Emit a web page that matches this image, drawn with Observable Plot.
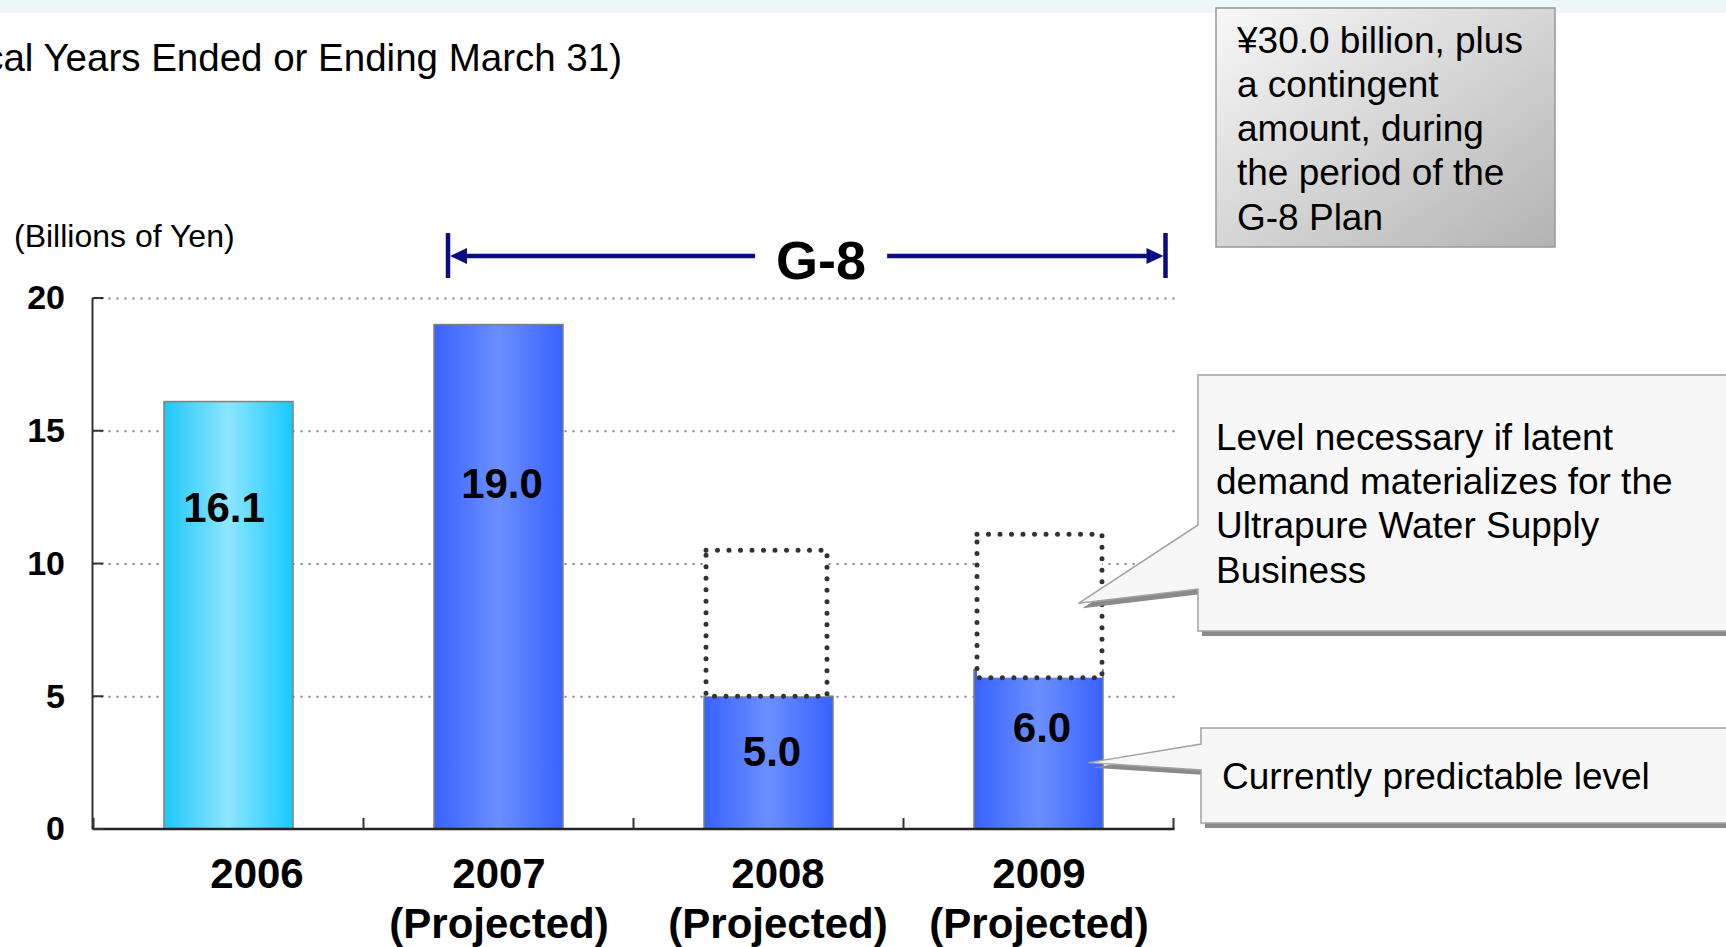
<!DOCTYPE html>
<html><head><meta charset="utf-8">
<script src="https://cdn.jsdelivr.net/npm/d3@7"></script>
<script src="https://cdn.jsdelivr.net/npm/@observablehq/plot@0.6"></script>
<style>
html,body{margin:0;padding:0;background:#fff;}
body{width:1726px;height:947px;overflow:hidden;}
#chart svg{display:block;}
</style></head><body><div id="chart"></div>
<script>
// ---------- data ----------
const years = ["2006", "2007", "2008", "2009"];
const projected = [false, true, true, true];
const investment = [16.1, 19.0, 5.0, 6.0];
const latentFrom = [null, null, 5.0, 5.7];
const latentTo = [null, null, 10.5, 11.1];
const yTicks = [0, 5, 10, 15, 20];
const titleText = "(Fiscal Years Ended or Ending March 31)";
const unitText = "(Billions of Yen)";
const planLabel = "G-8";
const planNote = ["¥30.0 billion, plus", "a contingent", "amount, during", "the period of the", "G-8 Plan"];
const latentNote = ["Level necessary if latent", "demand materializes for the", "Ultrapure Water Supply", "Business"];
const currentNote = ["Currently predictable level"];

// ---------- layout ----------
const labelLevel = [12.1, 13.0, 2.9, 3.8];
const valueShift = [-5, 3, 3, 3];
const labelShift = [28, 0, 9, 0];
const pointerLevel = [8.5, 2.5];
const W = 1726, H = 947;
const FONT = '"Liberation Sans", Arial, Helvetica, sans-serif';

const rows = years.map((year, i) => ({
  year, value: investment[i], projected: projected[i],
  low: latentFrom[i], high: latentTo[i],
  labelAt: labelLevel[i], vshift: valueShift[i], shift: labelShift[i],
  tick: projected[i] ? year + "\n(Projected)" : year
}));

function addText(g, x, y, s, o = {}) {
  return g.append("text").attr("x", x).attr("y", y)
    .attr("dominant-baseline", "central")
    .attr("text-anchor", o.anchor || "start")
    .attr("font-size", o.size || 37)
    .attr("font-weight", o.weight || "normal")
    .attr("font-family", FONT)
    .attr("fill", o.fill || "#000")
    .text(s);
}

function backgroundMark(index, scales, values, dims) {
  const g = d3.create("svg:g");
  const defs = g.append("defs");
  const lg = (id, stops, x2 = 1, y2 = 0) => {
    const gr = defs.append("linearGradient").attr("id", id)
      .attr("x1", 0).attr("y1", 0).attr("x2", x2).attr("y2", y2);
    stops.forEach(([o, c]) => gr.append("stop").attr("offset", o).attr("stop-color", c));
  };
  lg("gradCyan", [[0, "#1ec6f8"], [0.5, "#8ee6ff"], [1, "#16c9ff"]]);
  lg("gradBlue", [[0, "#3762ff"], [0.5, "#6b8fff"], [1, "#3762ff"]]);
  lg("gradGray", [[0, "#f8f8f8"], [1, "#b3b3b3"]], 1, 1);
  g.append("rect").attr("x", 0).attr("y", 0).attr("width", W).attr("height", 13).attr("fill", "#eef7f7");
  addText(g, 622, 57, titleText, {anchor: "end", size: 38.5});
  addText(g, 14, 236, unitText, {size: 32});
  return g.node();
}

function annotationMark(index, scales, values, dims) {
  const sx = scales.x, sy = scales.y;
  const x0 = dims.marginLeft, x1 = dims.width - dims.marginRight;
  const step = typeof sx.step === "function" ? sx.step() : (x1 - x0) / years.length;
  const bw = typeof sx.bandwidth === "function" ? sx.bandwidth() : step * 0.476;
  const cx = d => sx(d) + bw / 2;
  const y0 = sy(0), yTop = sy(20);
  const g = d3.create("svg:g");
  const line = (a, b, c, d, stroke, w) => g.append("line").attr("x1", a).attr("y1", b).attr("x2", c).attr("y2", d)
    .attr("stroke", stroke).attr("stroke-width", w);

  // axes
  line(x0, yTop, x0, y0, "#333", 2);
  line(x0, y0, x1, y0, "#222", 2.5);
  yTicks.forEach(t => line(x0, sy(t), x0 + 11, sy(t), "#333", 2));
  const bounds = years.map(d => sx(d) - (step - bw) / 2).concat([sx(years[years.length - 1]) + bw + (step - bw) / 2]);
  bounds.forEach(b => line(b, y0, b, y0 - 11, "#333", 2));

  // G-8 span arrow
  const ya = yTop - 42;
  const xl = sx("2007") + 14, xr = x1 - 9;
  const navy = "#0b0b82";
  const tc = xl + 0.52 * (xr - xl);
  g.append("rect").attr("x", tc - 66).attr("y", ya - 34).attr("width", 132).attr("height", 68).attr("fill", "#fff");
  line(xl, ya - 23, xl, ya + 22, navy, 4.5);
  line(xr, ya - 23, xr, ya + 22, navy, 4.5);
  line(xl + 10, ya, tc - 66, ya, navy, 4.5);
  line(tc + 66, ya, xr - 10, ya, navy, 4.5);
  g.append("path").attr("d", `M${xl + 2},${ya} L${xl + 19},${ya - 8} L${xl + 19},${ya + 8} Z`).attr("fill", navy);
  g.append("path").attr("d", `M${xr - 2},${ya} L${xr - 19},${ya - 8} L${xr - 19},${ya + 8} Z`).attr("fill", navy);
  addText(g, tc, ya + 4, planLabel, {anchor: "middle", size: 54, weight: "bold"});

  // G-8 plan note box
  g.append("rect").attr("x", 1216).attr("y", 8).attr("width", 339).attr("height", 239)
    .attr("fill", "url(#gradGray)").attr("stroke", "#999").attr("stroke-width", 1.5);
  planNote.forEach((s, i) => addText(g, 1237, 40 + i * 44.3, s, {size: 37}));

  // callouts
  const callout = (bx, by, bh, pTop, pBot, tip) => {
    const d = `M${bx},${by} H${W + 10} V${by + bh} H${bx} V${pBot} L${tip[0]},${tip[1]} L${bx},${pTop} Z`;
    g.append("path").attr("d", d).attr("transform", "translate(4,5)").attr("fill", "#8a8a8a");
    g.append("path").attr("d", d).attr("fill", "#f7f7f7").attr("stroke", "#a3a3a3").attr("stroke-width", 1.5);
  };
  const tip1 = [cx("2009") + 40, sy(pointerLevel[0])];
  const tip2 = [cx("2009") + 50, sy(pointerLevel[1])];
  callout(1198, 375, 256, 525, 589, tip1);
  latentNote.forEach((s, i) => addText(g, 1216, 437 + i * 44.4, s, {size: 37}));
  callout(1201, 728, 95, 744, 770, tip2);
  currentNote.forEach((s, i) => addText(g, 1222, 776 + i * 44.4, s, {size: 37}));
  return g.node();
}

const latentRows = rows.filter(d => d.high != null);
const boxStyle = {x: "year", y1: "low", y2: "high", fill: "white", stroke: "#333",
  strokeWidth: 5, strokeDasharray: "0,11.5", strokeLinecap: "round"};

const chart = Plot.plot({
  width: W, height: H,
  marginLeft: 92.5, marginRight: 551.5, marginTop: 298, marginBottom: 118,
  style: {fontFamily: FONT, background: "transparent", overflow: "visible"},
  x: {domain: years, axis: null, paddingInner: 0.524, paddingOuter: 0.262},
  y: {domain: [0, 20], axis: null},
  marks: [
    backgroundMark,
    Plot.ruleY(yTicks.filter(t => t > 0), {stroke: "#808080", strokeWidth: 2, strokeDasharray: "2,6"}),
    Plot.barY(rows.filter(d => !d.projected), {x: "year", y: "value", fill: "url(#gradCyan)", stroke: "#808080", strokeWidth: 1.5}),
    Plot.barY(rows.filter(d => d.projected), {x: "year", y: "value", fill: "url(#gradBlue)", stroke: "#808080", strokeWidth: 1.5}),
    Plot.barY(latentRows.slice(0, 1), {...boxStyle, insetLeft: 2, insetRight: 6}),
    Plot.barY(latentRows.slice(1), {...boxStyle, insetLeft: 3, insetRight: 1}),
    ...rows.map(r => Plot.text([r], {x: "year", y: "labelAt", text: d => d.value.toFixed(1), dx: r.vshift,
      fontSize: 42, fontWeight: "bold", fill: "#000"})),
    Plot.text(yTicks, {y: d => d, text: d => String(d), frameAnchor: "left", dx: -28, textAnchor: "end", fontSize: 34, fontWeight: "bold", fill: "#000"}),
    ...rows.map(r => Plot.text([r], {x: "year", y: 0, text: "tick", dy: 23.5, dx: r.shift, lineAnchor: "top", lineHeight: 1.18,
      fontSize: 42, fontWeight: "bold", fill: "#000"})),
    annotationMark
  ]
});
document.getElementById("chart").appendChild(chart);
</script>
</body></html>
